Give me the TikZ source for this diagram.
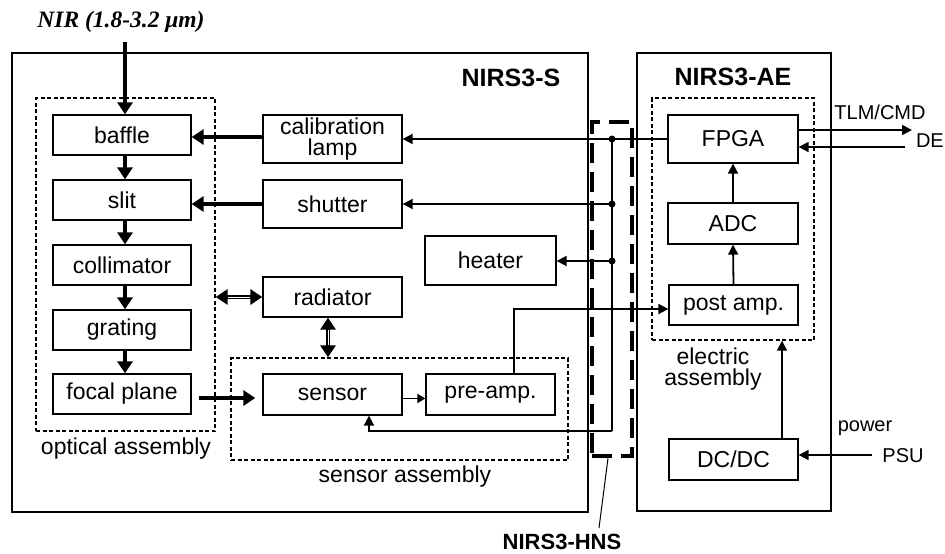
\documentclass[tikz,border=0pt]{standalone}
\usepackage{fontspec}
\setmainfont{Liberation Sans}
\newfontfamily\timesfam{Liberation Serif}
\usetikzlibrary{arrows.meta}
\begin{document}
\begin{tikzpicture}[x=1pt,y=-1pt,
 box/.style={draw, line width=1.3pt, inner sep=0pt, font=\fontsize{23}{21.5}\selectfont, align=center},
 dbox/.style={draw, line width=1.4pt, dash pattern=on 4pt off 2.5pt, inner sep=0pt},
 outer/.style={draw, line width=1.4pt, inner sep=0pt},
 thk/.style={line width=4.5pt, -{Triangle[length=12pt,width=15pt]}},
 wire/.style={line width=1.8pt, -{Triangle[length=10pt,width=10pt]}},
 lbl/.style={font=\fontsize{23}{21.5}\selectfont, inner sep=0pt, align=center},
 slbl/.style={font=\fontsize{20}{20}\selectfont, inner sep=0pt},
 blbl/.style={font=\bfseries\fontsize{25}{25}\selectfont, inner sep=0pt},
 dot/.style={circle, fill, inner sep=0pt, minimum size=7pt}
]
\useasboundingbox (0,0) rectangle (945,554);

% outer boxes
\node[outer, minimum width=576pt, minimum height=459pt] (nirss) at (300,282.5) {};
\node[outer, minimum width=194pt, minimum height=458pt] (nirsae) at (734,282) {};

% dashed assemblies
\node[dbox, minimum width=179pt, minimum height=333pt] (optbox) at (125.5,264.5) {};
\node[dbox, minimum width=337pt, minimum height=102pt] (sensbox) at (399.5,409) {};
\node[dbox, minimum width=162pt, minimum height=242pt] (elbox) at (733,219) {};

% HNS harness
\node[draw, line width=4.5pt, dash pattern=on 20pt off 9pt, minimum width=40pt, minimum height=334pt, inner sep=0pt] (hns) at (612,289) {};

% blocks
\node[box, minimum width=138pt, minimum height=40pt] (baffle) at (122,135) {baffle};
\node[box, minimum width=138pt, minimum height=40pt] (slit) at (122,200) {slit};
\node[box, minimum width=138pt, minimum height=40pt] (collimator) at (122,265) {collimator};
\node[box, minimum width=138pt, minimum height=40pt] (grating) at (122,330) {grating};
\node[box, minimum width=138pt, minimum height=40pt] (focal) at (122,394) {focal plane};
\node[box, minimum width=139pt, minimum height=48pt] (calib) at (332.5,139) {calibration\\lamp};
\node[box, minimum width=139pt, minimum height=48pt] (shutter) at (332.5,204) {shutter};
\node[box, minimum width=131pt, minimum height=49pt] (heater) at (490.5,260.5) {heater};
\node[box, minimum width=139pt, minimum height=40pt] (radiator) at (332.5,297) {radiator};
\node[box, minimum width=139pt, minimum height=41pt] (sensor) at (332.5,394.5) {sensor};
\node[box, minimum width=129pt, minimum height=41pt] (preamp) at (490.5,394.5) {pre-amp.};
\node[box, minimum width=130pt, minimum height=48pt] (FPGA) at (733,139) {FPGA};
\node[box, minimum width=130pt, minimum height=41pt] (ADC) at (733,223.5) {ADC};
\node[box, minimum width=129pt, minimum height=40pt] (postamp) at (733.5,305) {post amp.};
\node[box, minimum width=129pt, minimum height=41pt] (DCDC) at (733.5,459.5) {DC/DC};

% labels
\node[inner sep=0pt, font=\timesfam\bfseries\itshape\fontsize{23.5}{24}\selectfont] (nir) at (121,22) {NIR (1.8-3.2 μm)};
\node[blbl] (slabel) at (511,78) {NIRS3-S};
\node[blbl] (aelabel) at (733,77) {NIRS3-AE};
\node[lbl] (optlbl) at (126,449) {optical assembly};
\node[lbl] (senslbl) at (405,477) {sensor assembly};
\node[lbl] (ellbl) at (713,369) {electric\\assembly};
\node[inner sep=0pt, font=\bfseries\fontsize{22}{22}\selectfont] (hnslbl) at (562,542) {NIRS3-HNS};
\node[slbl] (tlm) at (880,112) {TLM/CMD};
\node[slbl, anchor=east] (de) at (944,141) {DE};
\node[slbl] (power) at (865,428) {power};
\node[slbl] (psu) at (903,456) {PSU};

% optical path
\coordinate (nirstart) at (125,42);
\draw[thk] (nirstart) -- (nirstart |- baffle.north);
\draw[thk] ([xshift=3pt]baffle.south) -- ([xshift=3pt]slit.north);
\draw[thk] ([xshift=3pt]slit.south) -- ([xshift=3pt]collimator.north);
\draw[thk] ([xshift=3pt]collimator.south) -- ([xshift=3pt]grating.north);
\draw[thk] ([xshift=3pt]grating.south) -- ([xshift=3pt]focal.north);
\draw[thk] ([yshift=2pt]calib.west) -- ([yshift=2pt]calib.west -| baffle.east);
\draw[thk] (shutter.west) -- (shutter.west -| slit.east);
\draw[thk, shorten <=7pt, shorten >=7pt] ([yshift=-4pt]focal.east) -- ([yshift=-4pt]focal.east -| sensor.west);

% thermal double arrows
\draw[line width=4.5pt, {Triangle[length=12pt,width=15pt]}-{Triangle[length=12pt,width=15pt]}] (radiator.west) -- (radiator.west -| optbox.east);
\draw[white, line width=1pt, shorten <=12pt, shorten >=12pt] (radiator.west) -- (radiator.west -| optbox.east);
\draw[line width=4.5pt, {Triangle[length=12pt,width=15pt]}-{Triangle[length=12pt,width=15pt]}] ([xshift=-4.5pt]radiator.south) -- ([xshift=-4.5pt]radiator.south |- sensbox.north);
\draw[white, line width=1pt, shorten <=12pt, shorten >=12pt] ([xshift=-4.5pt]radiator.south) -- ([xshift=-4.5pt]radiator.south |- sensbox.north);

% sensor to pre-amp
\draw[line width=1.8pt, -{Triangle[length=8pt,width=9pt]}] ([yshift=-4pt]sensor.east) -- ([yshift=-4pt]sensor.east -| preamp.west);

% bus
\coordinate (b1) at (612,139);
\coordinate (b2) at (612,204);
\coordinate (b3) at (612,261);
\coordinate (b4) at (612,431);
\draw[wire] (FPGA.west) -- (calib.east);
\draw[line width=1.2pt] (b1) -- (b4);
\draw[wire] (b2) -- (b2 -| shutter.east);
\draw[wire] (b3) -- (b3 -| heater.east);
\draw[wire] (b4) -| ([xshift=36.5pt]sensor.south);
\node[dot] at (b1) {};
\node[dot] at (b2) {};
\node[dot] at (b3) {};

% signal chain
\draw[wire] ([xshift=23.5pt]preamp.north) |- ([yshift=-4pt]postamp.west);
\draw[wire] (postamp.north) -- (ADC.south);
\draw[wire] (ADC.north) -- (FPGA.south);
\draw[wire] ([xshift=48.5pt]DCDC.north) -- ([xshift=48.5pt]DCDC.north |- elbox.south);

% external
\coordinate (tlmend) at (912,130);
\coordinate (destart) at (905,147);
\coordinate (psustart) at (872,455);
\draw[wire] (FPGA.east |- tlmend) -- (tlmend);
\draw[wire] (destart) -- (destart -| FPGA.east);
\draw[wire] (psustart) -- (psustart -| DCDC.east);

% HNS leader
\draw[line width=1pt] ([xshift=37pt,yshift=6pt]hnslbl.north) -- ([xshift=-4pt]hns.south);
\end{tikzpicture}
\end{document}
